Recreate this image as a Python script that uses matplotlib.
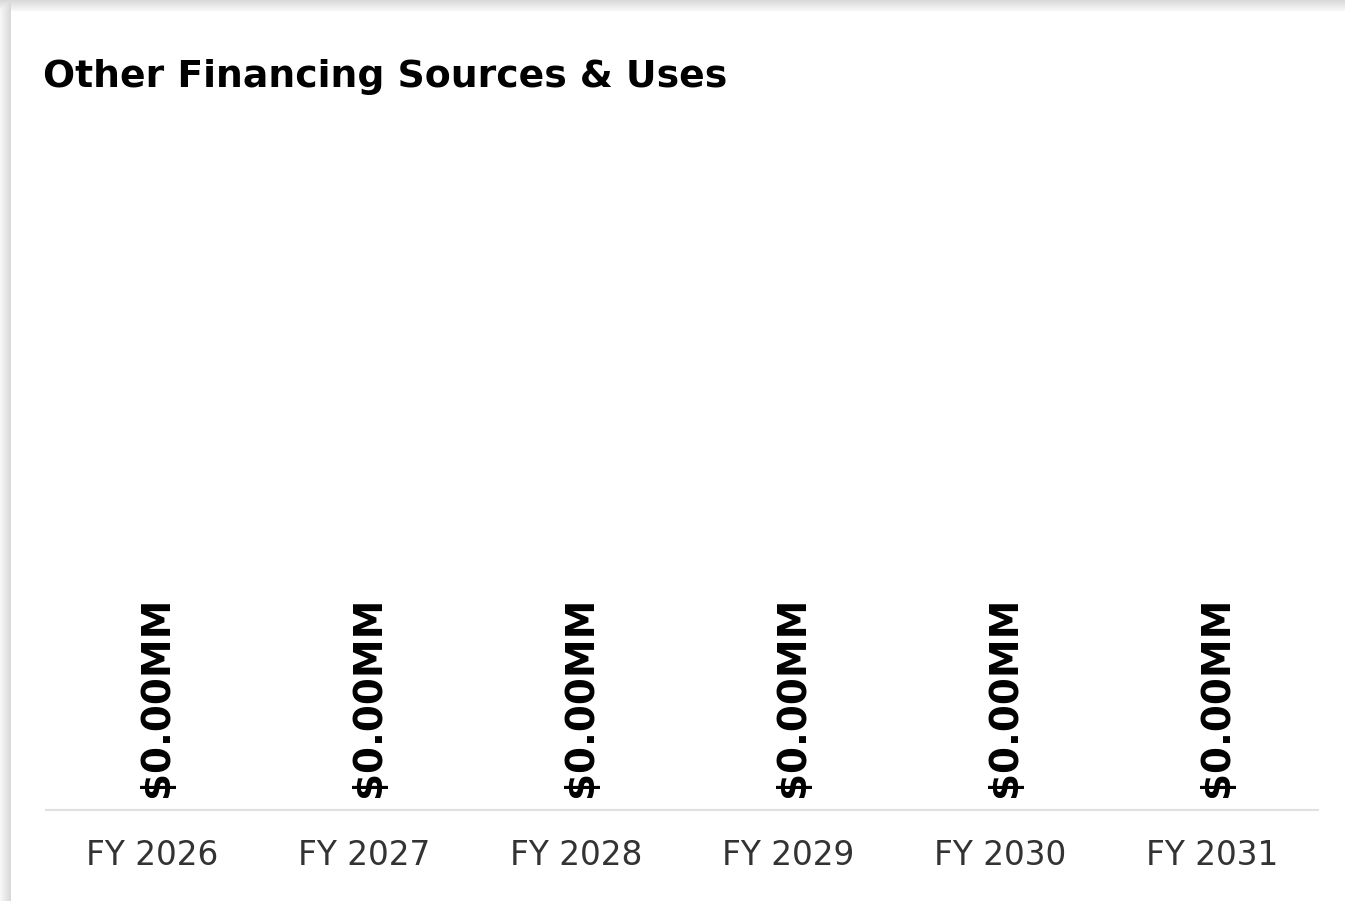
import matplotlib.pyplot as plt
from matplotlib.patches import Rectangle

years = ["FY 2026", "FY 2027", "FY 2028", "FY 2029", "FY 2030", "FY 2031"]
amounts = [0.0, 0.0, 0.0, 0.0, 0.0, 0.0]  # $MM

W, H = 1345, 901
fig = plt.figure(figsize=(W / 100, H / 100), dpi=100)
fig.patch.set_facecolor("white")

# soft card shadow along the top and left edges
for k in range(11):
    shade = 0.97 - 0.012 * k
    c = (shade, shade, shade)
    fig.add_artist(Rectangle((0, 1 - (11 - k) / H), 1, 1 / H, transform=fig.transFigure,
                             facecolor=c, edgecolor="none"))
    fig.add_artist(Rectangle((k / W, 0), 1 / W, 1 - (11 - k) / H, transform=fig.transFigure,
                             facecolor=c, edgecolor="none"))

fig.text(43 / W, 1 - 77 / H, "Other Financing Sources & Uses", fontsize=27.2,
         fontweight="bold", color="black", va="center", ha="left")

ax = fig.add_axes([46 / W, (H - 810) / H, (1318 - 46) / W, (810 - 140) / H])
x = range(len(years))
bars = ax.bar(x, amounts, width=0.6, color="#4472c4")
ax.set_ylim(0, 1)
ax.set_xlim(-0.5, len(years) - 0.5)

for b, v in zip(bars, amounts):
    ax.annotate(f"${v:.2f}MM", (b.get_x() + b.get_width() / 2, v),
                xytext=(5, 13), textcoords="offset pixels", rotation=90,
                ha="center", va="bottom", fontsize=28, fontweight="bold", color="black")

ax.set_xticks(list(x))
ax.set_xticklabels(years, fontsize=23.6, color="#333333")
ax.tick_params(axis="x", length=0, pad=21)
ax.set_yticks([])
for s in ["top", "left", "right"]:
    ax.spines[s].set_visible(False)
ax.spines["bottom"].set_color("#e0e0e0")
ax.spines["bottom"].set_linewidth(1.5)

fig.savefig("out.png", dpi=100)
